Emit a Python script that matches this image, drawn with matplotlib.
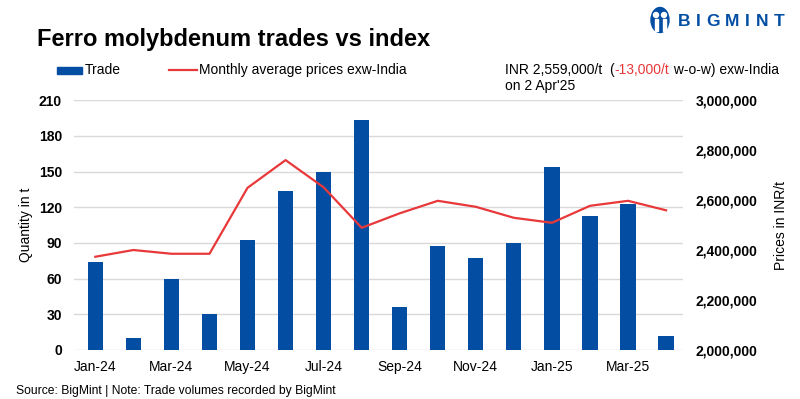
import numpy as np
import matplotlib.pyplot as plt
from matplotlib.patches import Ellipse

plt.rcParams['font.family'] = ['Liberation Sans', 'DejaVu Sans']

months = ['Jan-24', 'Feb-24', 'Mar-24', 'Apr-24', 'May-24', 'Jun-24', 'Jul-24', 'Aug-24',
          'Sep-24', 'Oct-24', 'Nov-24', 'Dec-24', 'Jan-25', 'Feb-25', 'Mar-25', 'Apr-25']
trade = [74, 10, 60, 30, 92, 134, 150, 193, 36, 87, 77, 90, 154, 113, 123, 12]
price = [2373000, 2400000, 2385000, 2385000, 2649000, 2760000, 2651000, 2489000,
         2547000, 2597000, 2573000, 2529000, 2509000, 2577000, 2597000, 2559000]
left_ticks = [0, 30, 60, 90, 120, 150, 180, 210]
right_ticks = [2000000, 2200000, 2400000, 2600000, 2800000, 3000000]

blue = '#034EA2'
red = '#E8383A'
grid_c = '#D9D9D9'
W, H = 800, 399

fig = plt.figure(figsize=(8, 3.99), dpi=100)
ax = fig.add_axes([0.093, 0.123, 0.761, 0.626])
x = np.arange(len(months))

ax.bar(x, trade, width=0.4, color=blue, zorder=2)
ax.set_ylim(0, 210)
ax.set_yticks(left_ticks)
ax.set_yticklabels([str(t) for t in left_ticks], fontweight='bold', fontsize=10)
ax.set_xlim(-0.55, 15.45)
ax.set_xticks(x[::2])
ax.set_xticklabels(months[::2], fontsize=10)
ax.tick_params(length=0, pad=7)
ax.tick_params(axis='y', pad=9)
ax.grid(axis='y', color=grid_c, lw=1, zorder=0)
for s in ax.spines.values():
    s.set_visible(False)
ax.set_ylabel('Quantity in t', fontsize=10, labelpad=4)

ax2 = ax.twinx()
ax2.plot(x, price, color=red, lw=1.6, zorder=3)
ax2.set_ylim(2000000, 3000000)
ax2.set_yticks(right_ticks)
ax2.set_yticklabels([f'{t:,}' for t in right_ticks], fontweight='bold', fontsize=10)
ax2.tick_params(length=0, pad=9)
for s in ax2.spines.values():
    s.set_visible(False)
ax2.set_ylabel('Prices in INR/t', fontsize=10, labelpad=12)

# title and legend
fig.text(0.046, 1 - 46 / H, 'Ferro molybdenum trades vs index', fontsize=17,
         fontweight='bold', va='baseline')
fig.patches.append(plt.Rectangle((57 / W, 1 - 74 / H), 25 / W, 7 / H, color=blue,
                                 transform=fig.transFigure, figure=fig))
fig.text(85 / W, 1 - 70 / H, 'Trade', fontsize=10, va='center')
fig.lines.append(plt.Line2D([169 / W, 197 / W], [1 - 70 / H, 1 - 70 / H], color=red,
                            lw=1.6, transform=fig.transFigure, figure=fig))
fig.text(199 / W, 1 - 70 / H, 'Monthly average prices exw-India', fontsize=10,
         va='center')

fig.canvas.draw()
r = fig.canvas.get_renderer()
t1 = fig.text(505 / W, 1 - 70 / H, 'INR 2,559,000/t  (', fontsize=10, va='center')
bb = t1.get_window_extent(r)
t2 = fig.text(bb.x1 / W, 1 - 70 / H, '-13,000/t', fontsize=10, va='center', color=red)
bb2 = t2.get_window_extent(r)
fig.text(bb2.x1 / W, 1 - 70 / H, ' w-o-w) exw-India', fontsize=10, va='center')
fig.text(505 / W, 1 - 86 / H, "on 2 Apr'25", fontsize=10, va='center')

# logo
fig.patches.append(Ellipse((660 / W, 1 - 20 / H), 18 / W, 25 / H, color=blue,
                           transform=fig.transFigure, figure=fig))
for dx in (-4, 4):
    fig.patches.append(Ellipse(((660 + dx) / W, 1 - 15 / H), 5 / W, 5 / H, color='white',
                               transform=fig.transFigure, figure=fig))
    fig.patches.append(plt.Rectangle(((660 + dx - 1.5) / W, 1 - 31 / H), 3 / W, 12 / H,
                                     color='white', transform=fig.transFigure, figure=fig))
xpos = 678
for ch in 'BIGMINT':
    t = fig.text(xpos / W, 1 - 21 / H, ch, fontsize=12.5, fontweight='bold', color=blue,
                 va='center')
    xpos = t.get_window_extent(r).x1 + 5.5

fig.text(16 / W, 1 - 394 / H,
         'Source: BigMint | Note: Trade volumes recorded by BigMint',
         fontsize=8.7, va='baseline')

fig.savefig('out.png', dpi=100)
